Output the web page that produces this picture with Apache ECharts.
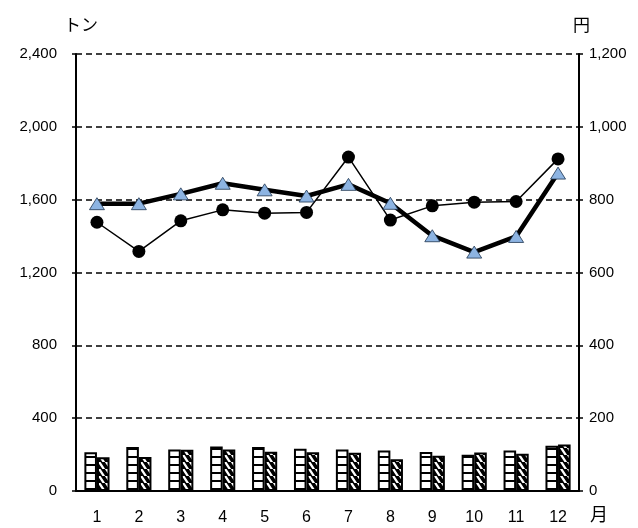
<!DOCTYPE html>
<html>
<head>
<meta charset="utf-8">
<script src="https://cdn.jsdelivr.net/npm/echarts@6/dist/echarts.min.js"></script>
<style>
  html, body {margin: 0; padding: 0; background: #fff;}
  #chart {width: 638px; height: 528px;}
</style>
</head>
<body>
<div id="chart"></div>
<script>
// 月
const months = ['1', '2', '3', '4', '5', '6', '7', '8', '9', '10', '11', '12'];
// 数量 (トン) - left axis
const qtyA = [213, 241, 228, 245, 241, 232, 228, 223, 214, 199, 223, 248];
const qtyB = [186, 187, 226, 228, 215, 213, 210, 174, 194, 212, 204, 256];
// 価格 (円) - right axis
const priceTri = [789, 789, 816, 845, 827, 810, 842, 790, 701, 656, 699, 873];
const priceDot = [738, 658, 742, 772, 763, 765, 917, 744, 783, 793, 795, 912];
const leftTicks = [0, 400, 800, 1200, 1600, 2000, 2400];
const rightTicks = [0, 200, 400, 600, 800, 1000, 1200];

function stripePattern() {
  const c = document.createElement('canvas');
  c.width = 8; c.height = 8;
  const ctx = c.getContext('2d');
  ctx.fillStyle = '#fff';
  ctx.fillRect(0, 0, 8, 8);
  ctx.fillStyle = '#000';
  ctx.fillRect(0, 0, 8, 2);
  return c;
}
function hatchPattern() {
  const c = document.createElement('canvas');
  c.width = 7; c.height = 7;
  const ctx = c.getContext('2d');
  ctx.fillStyle = '#fff';
  ctx.fillRect(0, 0, 7, 7);
  ctx.strokeStyle = '#000';
  ctx.lineWidth = 3.5;
  ctx.beginPath();
  for (let k = -7; k <= 14; k += 7) {
    ctx.moveTo(k - 7, -7);
    ctx.lineTo(k + 7, 7 + 7);
  }
  ctx.stroke();
  return c;
}

const font = '"Liberation Sans", Arial, sans-serif';
const jpFont = '"Noto Sans CJK JP", sans-serif';

const chart = echarts.init(document.getElementById('chart'));
chart.setOption({
  animation: false,
  backgroundColor: '#fff',
  grid: {left: 76, right: 59, top: 54, bottom: 37},
  xAxis: {
    type: 'category',
    data: months,
    axisLine: {lineStyle: {color: '#000', width: 2}},
    axisTick: {inside: true, length: 4, lineStyle: {color: '#000', width: 1}},
    axisLabel: {color: '#000', fontSize: 16, fontFamily: font, margin: 19},
    splitLine: {show: false}
  },
  yAxis: [{
    type: 'value',
    min: leftTicks[0], max: leftTicks[leftTicks.length - 1], interval: 400,
    axisLine: {show: true, lineStyle: {color: '#000', width: 2}},
    axisTick: {show: true, length: 4, lineStyle: {color: '#000', width: 1.5}},
    axisLabel: {color: '#000', fontSize: 15, fontFamily: font, margin: 19,
      formatter: v => v.toLocaleString('en-US')},
    splitLine: {show: true, lineStyle: {color: '#000', width: 1.5, type: [6, 4]}}
  }, {
    type: 'value',
    min: rightTicks[0], max: rightTicks[rightTicks.length - 1], interval: 200,
    axisLine: {show: true, lineStyle: {color: '#000', width: 2}},
    axisTick: {show: true, length: 4, lineStyle: {color: '#000', width: 1.5}},
    axisLabel: {color: '#000', fontSize: 15, fontFamily: font, margin: 10,
      formatter: v => v.toLocaleString('en-US')},
    splitLine: {show: false}
  }],
  series: [{
    type: 'bar',
    data: qtyA,
    barGap: '0%',
    barCategoryGap: '40%',
    itemStyle: {color: {image: stripePattern(), repeat: 'repeat'}, borderColor: '#000', borderWidth: 2}
  }, {
    type: 'bar',
    data: qtyB,
    itemStyle: {color: {image: hatchPattern(), repeat: 'repeat'}, borderColor: '#000', borderWidth: 2}
  }, {
    type: 'line',
    yAxisIndex: 1,
    data: priceDot,
    symbol: 'circle',
    symbolSize: 13,
    lineStyle: {color: '#000', width: 1.5},
    itemStyle: {color: '#000', borderColor: '#000', borderWidth: 0}
  }, {
    type: 'line',
    yAxisIndex: 1,
    data: priceTri,
    symbol: 'triangle',
    symbolSize: [15, 12],
    lineStyle: {color: '#000', width: 4.5},
    itemStyle: {color: '#8DB4E2', borderColor: '#1f3550', borderWidth: 0.8},
    z: 3
  }],
  graphic: [
    {type: 'text', left: 64, top: 16, style: {text: 'トン', fontSize: 17, fontFamily: jpFont, fill: '#000'}},
    {type: 'text', left: 573, top: 16, style: {text: '円', fontSize: 17, fontFamily: jpFont, fill: '#000'}},
    {type: 'text', left: 590, top: 505, style: {text: '月', fontSize: 18, fontFamily: jpFont, fill: '#000'}}
  ]
});
</script>
</body>
</html>
